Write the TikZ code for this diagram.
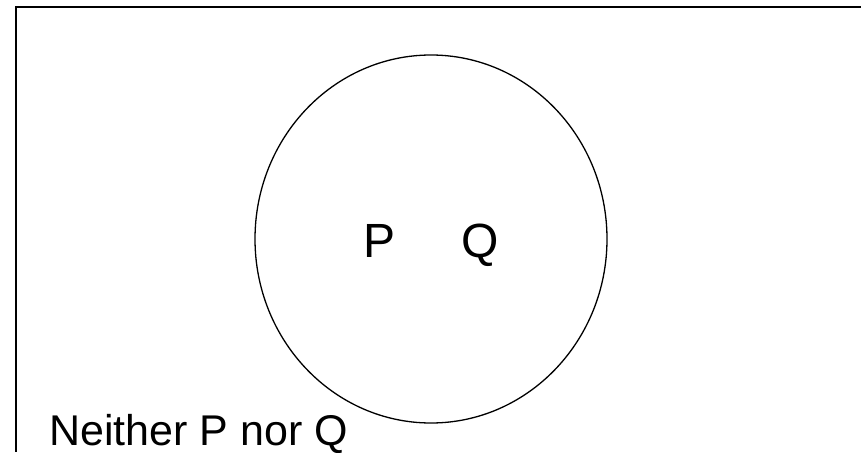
\documentclass[tikz,border=0pt]{standalone}
\usepackage{fontspec}
\setmainfont{Liberation Sans}
\usetikzlibrary{shapes.geometric}
\begin{document}
\begin{tikzpicture}[x=1pt,y=-1pt,
  frameline/.style={line width=2.2pt},
  setline/.style={draw,line width=1.3pt},
  bigtxt/.style={inner sep=0pt,anchor=base west,font=\fontsize{48}{52}\selectfont},
  captxt/.style={inner sep=0pt,anchor=base west,font=\fontsize{43}{48}\selectfont}]
\useasboundingbox (0,0) rectangle (861,452);
\coordinate (tl) at (16,7);
\coordinate (tr) at (861,7);
\coordinate (bl) at (16,452);
\draw[frameline] (tr) -- (tl) -- (bl);
\node[setline,ellipse,inner sep=0pt,minimum width=352pt,minimum height=368pt] (setA) at (431,239) {};
\node[bigtxt] (p) at (363,257) {P};
\node[bigtxt] (q) at (461,257) {Q};
\node[captxt] (neither) at (49,445) {Neither P nor Q};
\end{tikzpicture}
\end{document}
